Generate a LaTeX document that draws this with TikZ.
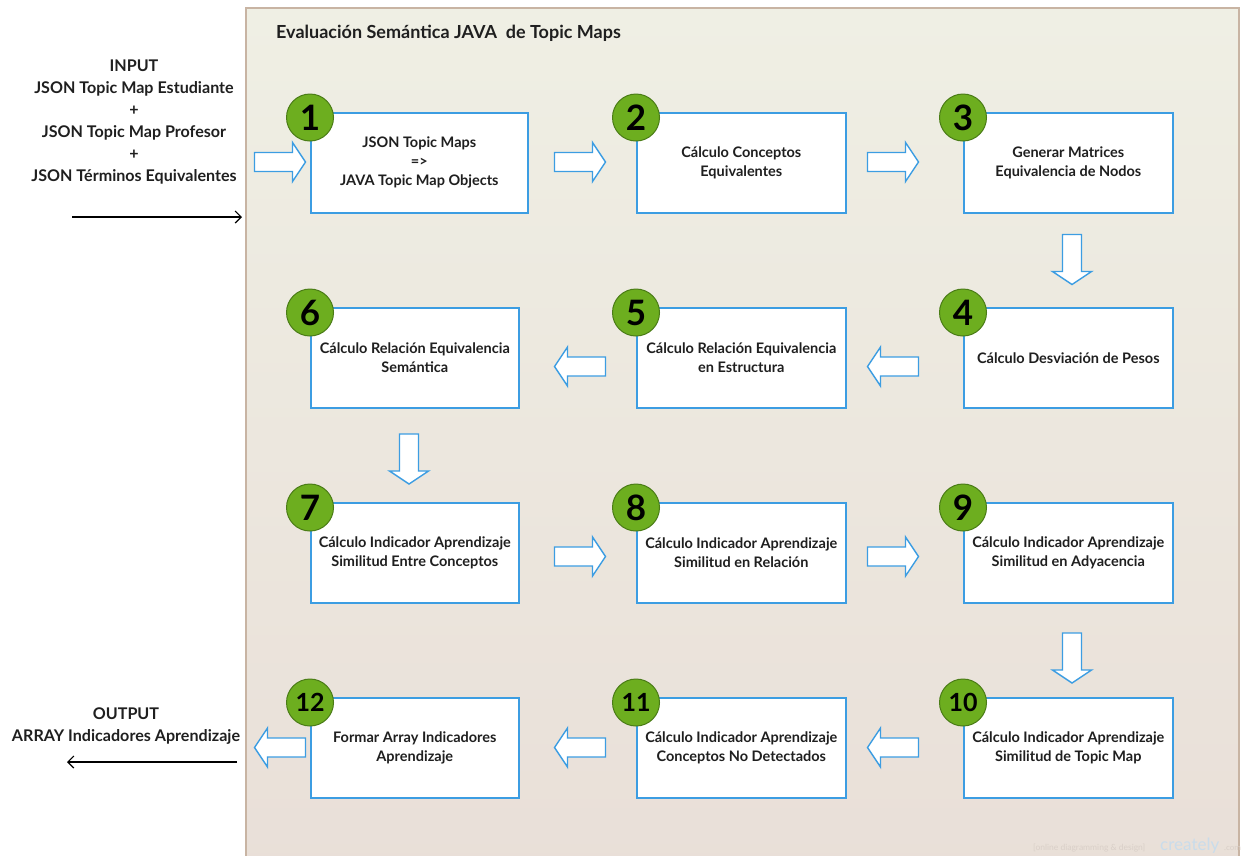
\documentclass[tikz,border=0pt]{standalone}
\usepackage{fontspec}
\setmainfont{Lato}
\usetikzlibrary{calc,arrows.meta}

\definecolor{boxblue}{HTML}{3C9DE2}
\definecolor{stepgreen}{HTML}{6DAE1F}
\definecolor{stepgreendark}{HTML}{4A7C16}
\definecolor{frametan}{HTML}{C8B4A3}
\definecolor{bgtop}{HTML}{EFEFE4}
\definecolor{bgbottom}{HTML}{E9DFD8}
\definecolor{inktext}{HTML}{1F1F1F}
\definecolor{marktext}{HTML}{D9CFC8}
\definecolor{markblue}{HTML}{C9DCEB}

\tikzset{
  stepbox/.style={draw=boxblue, line width=1.6pt, fill=white, align=center,
    text=inktext, inner sep=0pt, minimum height=100pt, anchor=north west,
    font=\bfseries\fontsize{14.5}{19.5}\selectfont},
  badge/.style={circle, draw=stepgreendark, line width=1pt, fill=stepgreen,
    minimum size=47pt, inner sep=0pt, text=black,
    font=\bfseries\fontsize{35}{35}\selectfont},
  badgetwo/.style={badge, font=\bfseries\fontsize{25}{25}\selectfont},
  flowarrow/.style={draw=boxblue, line width=1.4pt, fill=white, line join=miter},
  sidetext/.style={align=center, text=inktext,
    font=\bfseries\fontsize{16.1}{22}\selectfont},
  iolink/.style={draw=black, line width=1.2pt, -{Straight Barb[length=6pt,width=12pt]}},
  % block arrows, 51pt long, centred on the pic origin
  rightarrow/.pic={\path[flowarrow] (-25.5,-9.5) -- (12.5,-9.5) -- (12.5,-19.5)
    -- (25.5,0) -- (12.5,19.5) -- (12.5,9.5) -- (-25.5,9.5) -- cycle;},
  leftarrow/.pic={\path[flowarrow] (25.5,-9.5) -- (-12.5,-9.5) -- (-12.5,-19.5)
    -- (-25.5,0) -- (-12.5,19.5) -- (-12.5,9.5) -- (25.5,9.5) -- cycle;},
  downarrow/.pic={\path[flowarrow] (-9.5,-25) -- (9.5,-25) -- (9.5,12)
    -- (19.5,12) -- (0,25) -- (-19.5,12) -- (-9.5,12) -- cycle;},
}

\begin{document}
\begin{tikzpicture}[x=1pt,y=-1pt]
\useasboundingbox (0,0) rectangle (1241,855);

% framed panel holding the process
\begin{scope}
  \clip (0,0) rectangle (1241,855);
  \shade[top color=bgtop, bottom color=bgbottom, draw=frametan, line width=1.5pt]
    (246,8) rectangle (1239,880);
\end{scope}
\node[anchor=west, text=inktext, inner sep=0pt, font=\bfseries\fontsize{18}{20}\selectfont]
  (title) at (276,33) {Evaluación Semántica JAVA\ \ de Topic Maps};

% process steps
\node[stepbox, minimum width=217pt] (s1) at (310,112)
  {JSON Topic Maps\\[-1pt]=>\\JAVA Topic Map Objects};
\node[stepbox, minimum width=209pt] (s2) at (636,112) {Cálculo Conceptos\\Equivalentes};
\node[stepbox, minimum width=209pt] (s3) at (963,112) {Generar Matrices\\Equivalencia de Nodos};
\node[stepbox, minimum width=209pt] (s4) at (963,307) {Cálculo Desviación de Pesos};
\node[stepbox, minimum width=209pt] (s5) at (636,307) {Cálculo Relación Equivalencia\\en Estructura};
\node[stepbox, minimum width=208pt] (s6) at (310,307) {Cálculo Relación Equivalencia\\Semántica};
\node[stepbox, minimum width=208pt] (s7) at (310,502) {Cálculo Indicador Aprendizaje\\Similitud Entre Conceptos};
\node[stepbox, minimum width=209pt] (s8) at (636,502) {Cálculo Indicador Aprendizaje\\Similitud en Relación};
\node[stepbox, minimum width=209pt] (s9) at (963,502) {Cálculo Indicador Aprendizaje\\Similitud en Adyacencia};
\node[stepbox, minimum width=209pt] (s10) at (963,697) {Cálculo Indicador Aprendizaje\\Similitud de Topic Map};
\node[stepbox, minimum width=209pt] (s11) at (636,697) {Cálculo Indicador Aprendizaje\\Conceptos No Detectados};
\node[stepbox, minimum width=208pt] (s12) at (310,697) {Formar Array Indicadores\\Aprendizaje};

% numbered badges on the top-left corners
\foreach \i in {1,...,9}
  \node[badge] (b\i) at ($(s\i.north west)+(0,5.5)$) {\i};
\foreach \i in {10,11,12}
  \node[badgetwo] (b\i) at ($(s\i.north west)+(0,5.5)$) {\i};

% block arrows between the steps
\pic at (280,162) {rightarrow};
\pic at (580,162) {rightarrow};
\pic at (893,162) {rightarrow};
\pic at (1072,259.5) {downarrow};
\pic at (893,366.5) {leftarrow};
\pic at (580,366.5) {leftarrow};
\pic at (409,459) {downarrow};
\pic at (580,556.5) {rightarrow};
\pic at (893,556.5) {rightarrow};
\pic at (1072,658) {downarrow};
\pic at (893,747.5) {leftarrow};
\pic at (580,747.5) {leftarrow};
\pic at (280,747.5) {leftarrow};

% input and output
\node[sidetext] (input) at (134,122.5)
  {INPUT\\JSON Topic Map Estudiante\\+\\JSON Topic Map Profesor\\+\\JSON Términos Equivalentes};
\coordinate (inStart) at (72,217);
\coordinate (inEnd) at (242,217);
\draw[iolink] (inStart) -- (inEnd);

\node[sidetext] (output) at (126,726)
  {OUTPUT\\ARRAY Indicadores Aprendizaje};
\coordinate (outStart) at (237,762);
\coordinate (outEnd) at (67,762);
\draw[iolink] (outStart) -- (outEnd);

% editor watermark along the bottom edge
\node[anchor=base west, text=marktext, inner sep=0pt, font=\fontsize{8.5}{9}\selectfont]
  (mark) at (1033,850) {[online diagramming \& design]};
\node[anchor=base west, text=markblue, inner sep=0pt, font=\fontsize{17}{17}\selectfont]
  (markb) at (1160,850) {creately};
\node[anchor=base west, text=marktext, inner sep=0pt, font=\fontsize{8}{8}\selectfont]
  (markc) at (1224,850) {.com};
\end{tikzpicture}
\end{document}
